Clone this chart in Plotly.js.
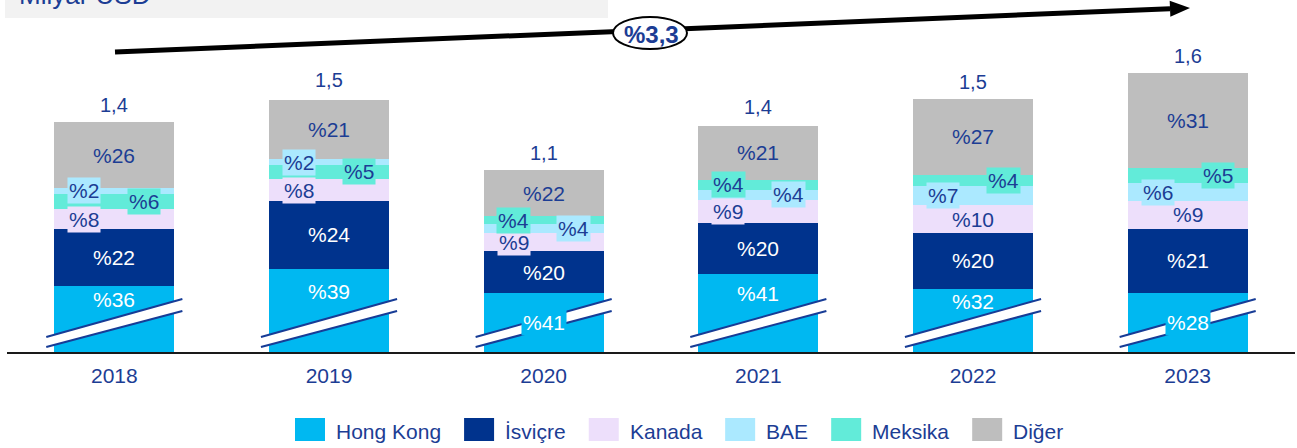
<!DOCTYPE html>
<html><head><meta charset="utf-8">
<script src="https://cdn.plot.ly/plotly-3.0.1.min.js"></script>
<style>html,body{margin:0;padding:0;background:#fff}#chart{width:1297px;height:448px}</style>
</head><body><div id="chart"></div>
<script>
// ---------- DATA ----------
const years = ['2018', '2019', '2020', '2021', '2022', '2023'];
const totals = [1.37, 1.50, 1.11, 1.36, 1.49, 1.63];   // Milyar USD (bar heights)
const hongKong = [36, 39, 41, 41, 32, 28];               // % shares
const isvicre  = [22, 24, 20, 20, 20, 21];
const kanada   = [8, 8, 9, 9, 10, 9];
const bae      = [2, 2, 4, 4, 7, 6];
const meksika  = [6, 5, 4, 4, 4, 5];
const diger    = [26, 21, 22, 21, 27, 31];
const seriesNames = ['Hong Kong', 'İsviçre', 'Kanada', 'BAE', 'Meksika', 'Diğer'];
const cagrLabel = '%3,3';
const unitLabel = 'Milyar USD';

// ---------- STYLE ----------
const FONT = 'Liberation Sans, Arial, sans-serif';
const TXT = '#1C3D94';
const colors = {hk: '#00B8F1', isv: '#00338D', kan: '#EDDFFB', bae: '#ABE9FF', mek: '#62EBD9', dig: '#BEBEBE'};
const L = 7, R = 2, T = 60, B = 96, W = 1297 - L - R, H = 448 - T - B;
const axisFloor = 0.139;               // broken value axis starts here
const pxPerUnit = 187;
const axisTop = axisFloor + H / pxPerUnit;
const xp = px => (px - L) / W;
const yp = py => (T + H - py) / H;

const series = {
  hk: hongKong, isv: isvicre, kan: kanada, bae: bae, mek: meksika, dig: diger
};
const abs = key => series[key].map((p, i) => p / 100 * totals[i]);
const mekBelow = meksika.map((m, i) => m > bae[i]);   // larger share sits lower in the stack

const traces = [];
function barTrace(key, name, values) {
  traces.push({
    type: 'bar', x: years, y: values, name: name,
    marker: {color: colors[key], line: {width: 0}},
    hoverinfo: 'skip', showlegend: false
  });
}
barTrace('hk', seriesNames[0], abs('hk'));
barTrace('isv', seriesNames[1], abs('isv'));
barTrace('kan', seriesNames[2], abs('kan'));
barTrace('mek', seriesNames[4], abs('mek').map((v, i) => mekBelow[i] ? v : null));
barTrace('bae', seriesNames[3], abs('bae'));
barTrace('mek', seriesNames[4], abs('mek').map((v, i) => mekBelow[i] ? null : v));
barTrace('dig', seriesNames[5], abs('dig'));

// ---------- LABELS ----------
const annotations = [];
const shapes = [];
const sideStyle = {
  kan: [-1, -1, -1, -1, 0, 0],
  bae: [-1, -1, 1, 1, -1, -1],
  mek: [1, 1, -1, -1, 1, 1]
};
const boxedHK = ['2020', '2023'];
const hkLabelFloor = axisFloor + 38 / pxPerUnit;

function lab(i, y, text, color, bg, side) {
  const a = {
    x: i, y: y, xref: 'x', yref: 'y', text: text, showarrow: false,
    font: {family: FONT, size: 21, color: color},
    borderpad: 1, xshift: (side || 0) * 30
  };
  if (bg) a.bgcolor = bg;
  annotations.push(a);
}

years.forEach((yr, i) => {
  const order = ['hk', 'isv', 'kan'].concat(mekBelow[i] ? ['mek', 'bae'] : ['bae', 'mek'], ['dig']);
  let base = 0;
  order.forEach(key => {
    const v = series[key][i] / 100 * totals[i];
    const top = base + v;
    const txt = '%' + series[key][i];
    if (key === 'hk') {
      if (boxedHK.includes(yr)) lab(i, (axisFloor + top) / 2, txt, '#fff', colors.hk, 0);
      else lab(i, (hkLabelFloor + top) / 2, txt, '#fff', null, 0);
    } else if (key === 'isv') {
      lab(i, base + v / 2, txt, '#fff', null, 0);
    } else if (key === 'dig') {
      lab(i, base + v / 2, txt, TXT, null, 0);
    } else {
      lab(i, base + v / 2, txt, TXT, colors[key], sideStyle[key][i]);
    }
    base = top;
  });
  // total on top
  annotations.push({
    x: i, y: totals[i], xref: 'x', yref: 'y', yanchor: 'bottom', yshift: 4,
    text: totals[i].toFixed(1).replace('.', ','), showarrow: false,
    font: {family: FONT, size: 20, color: TXT}
  });
  // axis-break marks
  const hw = 0.317;
  const ll = axisFloor + 0.027, lr = axisFloor + 0.219, ul = axisFloor + 0.080, ur = axisFloor + 0.283;
  shapes.push({type: 'path', xref: 'x', yref: 'y', layer: 'above',
    path: `M${i - hw},${ll} L${i + hw},${lr} L${i + hw},${ur} L${i - hw},${ul} Z`,
    fillcolor: '#ffffff', line: {width: 0}});
  shapes.push({type: 'line', xref: 'x', yref: 'y', layer: 'above', x0: i - hw, y0: ll, x1: i + hw, y1: lr,
    line: {color: '#173C96', width: 2}});
  shapes.push({type: 'line', xref: 'x', yref: 'y', layer: 'above', x0: i - hw, y0: ul, x1: i + hw, y1: ur,
    line: {color: '#173C96', width: 2}});
});

// ---------- HEADER: unit box + CAGR arrow ----------
shapes.push({type: 'rect', xref: 'paper', yref: 'paper', layer: 'below',
  x0: xp(5), x1: xp(608), y0: yp(18), y1: yp(-2), fillcolor: '#F2F2F2', line: {width: 0}});
annotations.push({xref: 'paper', yref: 'paper', x: xp(17), y: yp(-5), xanchor: 'left', yanchor: 'middle',
  text: unitLabel, showarrow: false, font: {family: FONT, size: 26, color: TXT}});

const tail = [115, 52], tip = [1190, 8];
const dx = tip[0] - tail[0], dy = tip[1] - tail[1], len = Math.hypot(dx, dy);
const ux = dx / len, uy = dy / len, headL = 20, headW = 8;
const bx = tip[0] - ux * headL, by = tip[1] - uy * headL;
shapes.push({type: 'line', xref: 'paper', yref: 'paper', layer: 'above',
  x0: xp(tail[0]), y0: yp(tail[1]), x1: xp(bx), y1: yp(by), line: {color: '#000', width: 5}});
shapes.push({type: 'path', xref: 'paper', yref: 'paper', layer: 'above',
  path: `M${xp(tip[0])},${yp(tip[1])} L${xp(bx - uy * headW)},${yp(by + ux * headW)} L${xp(bx + uy * headW)},${yp(by - ux * headW)} Z`,
  fillcolor: '#000', line: {width: 0}});
shapes.push({type: 'circle', xref: 'paper', yref: 'paper', layer: 'above',
  x0: xp(613), x1: xp(687), y0: yp(49), y1: yp(17), fillcolor: '#fff', line: {color: '#000', width: 2}});
annotations.push({xref: 'paper', yref: 'paper', x: xp(651), y: yp(34), xanchor: 'center', yanchor: 'middle',
  text: '<b>' + cagrLabel + '</b>', showarrow: false,
  font: {family: 'Liberation Sans Narrow, Liberation Sans, Arial', size: 24, color: TXT}});

// ---------- LEGEND (custom, larger swatches) ----------
const ctx = document.createElement('canvas').getContext('2d');
ctx.font = '21px "Liberation Sans"';
const legendKeys = ['hk', 'isv', 'kan', 'bae', 'mek', 'dig'];
let lx = 295;
legendKeys.forEach((k, j) => {
  shapes.push({type: 'rect', xref: 'paper', yref: 'paper', layer: 'above',
    x0: xp(lx), x1: xp(lx + 30), y0: yp(441), y1: yp(418), fillcolor: colors[k], line: {width: 0}});
  const tx = lx + 40;
  annotations.push({xref: 'paper', yref: 'paper', x: xp(tx), y: yp(431), xanchor: 'left', yanchor: 'middle',
    text: seriesNames[j], showarrow: false, borderpad: 0,
    font: {family: FONT, size: 21, color: TXT}});
  lx = tx + ctx.measureText(seriesNames[j]).width + 24;
});

const layout = {
  width: 1297, height: 448,
  margin: {l: L, r: R, t: T, b: B, pad: 0},
  paper_bgcolor: '#fff', plot_bgcolor: '#fff',
  barmode: 'stack', bargap: 0.44,
  showlegend: false,
  font: {family: FONT, color: TXT, size: 21},
  xaxis: {type: 'category', range: [-0.5, 5.5], showgrid: false, zeroline: false,
    showline: true, linecolor: '#1a1a1a', linewidth: 2, ticks: '',
    tickfont: {family: FONT, size: 21, color: TXT}, ticklabelstandoff: 4, fixedrange: true},
  yaxis: {range: [axisFloor, axisTop], showgrid: false, zeroline: false, showline: false,
    showticklabels: false, ticks: '', fixedrange: true},
  annotations: annotations, shapes: shapes
};
Plotly.newPlot('chart', traces, layout, {displayModeBar: false, staticPlot: true});
</script>
</body></html>
